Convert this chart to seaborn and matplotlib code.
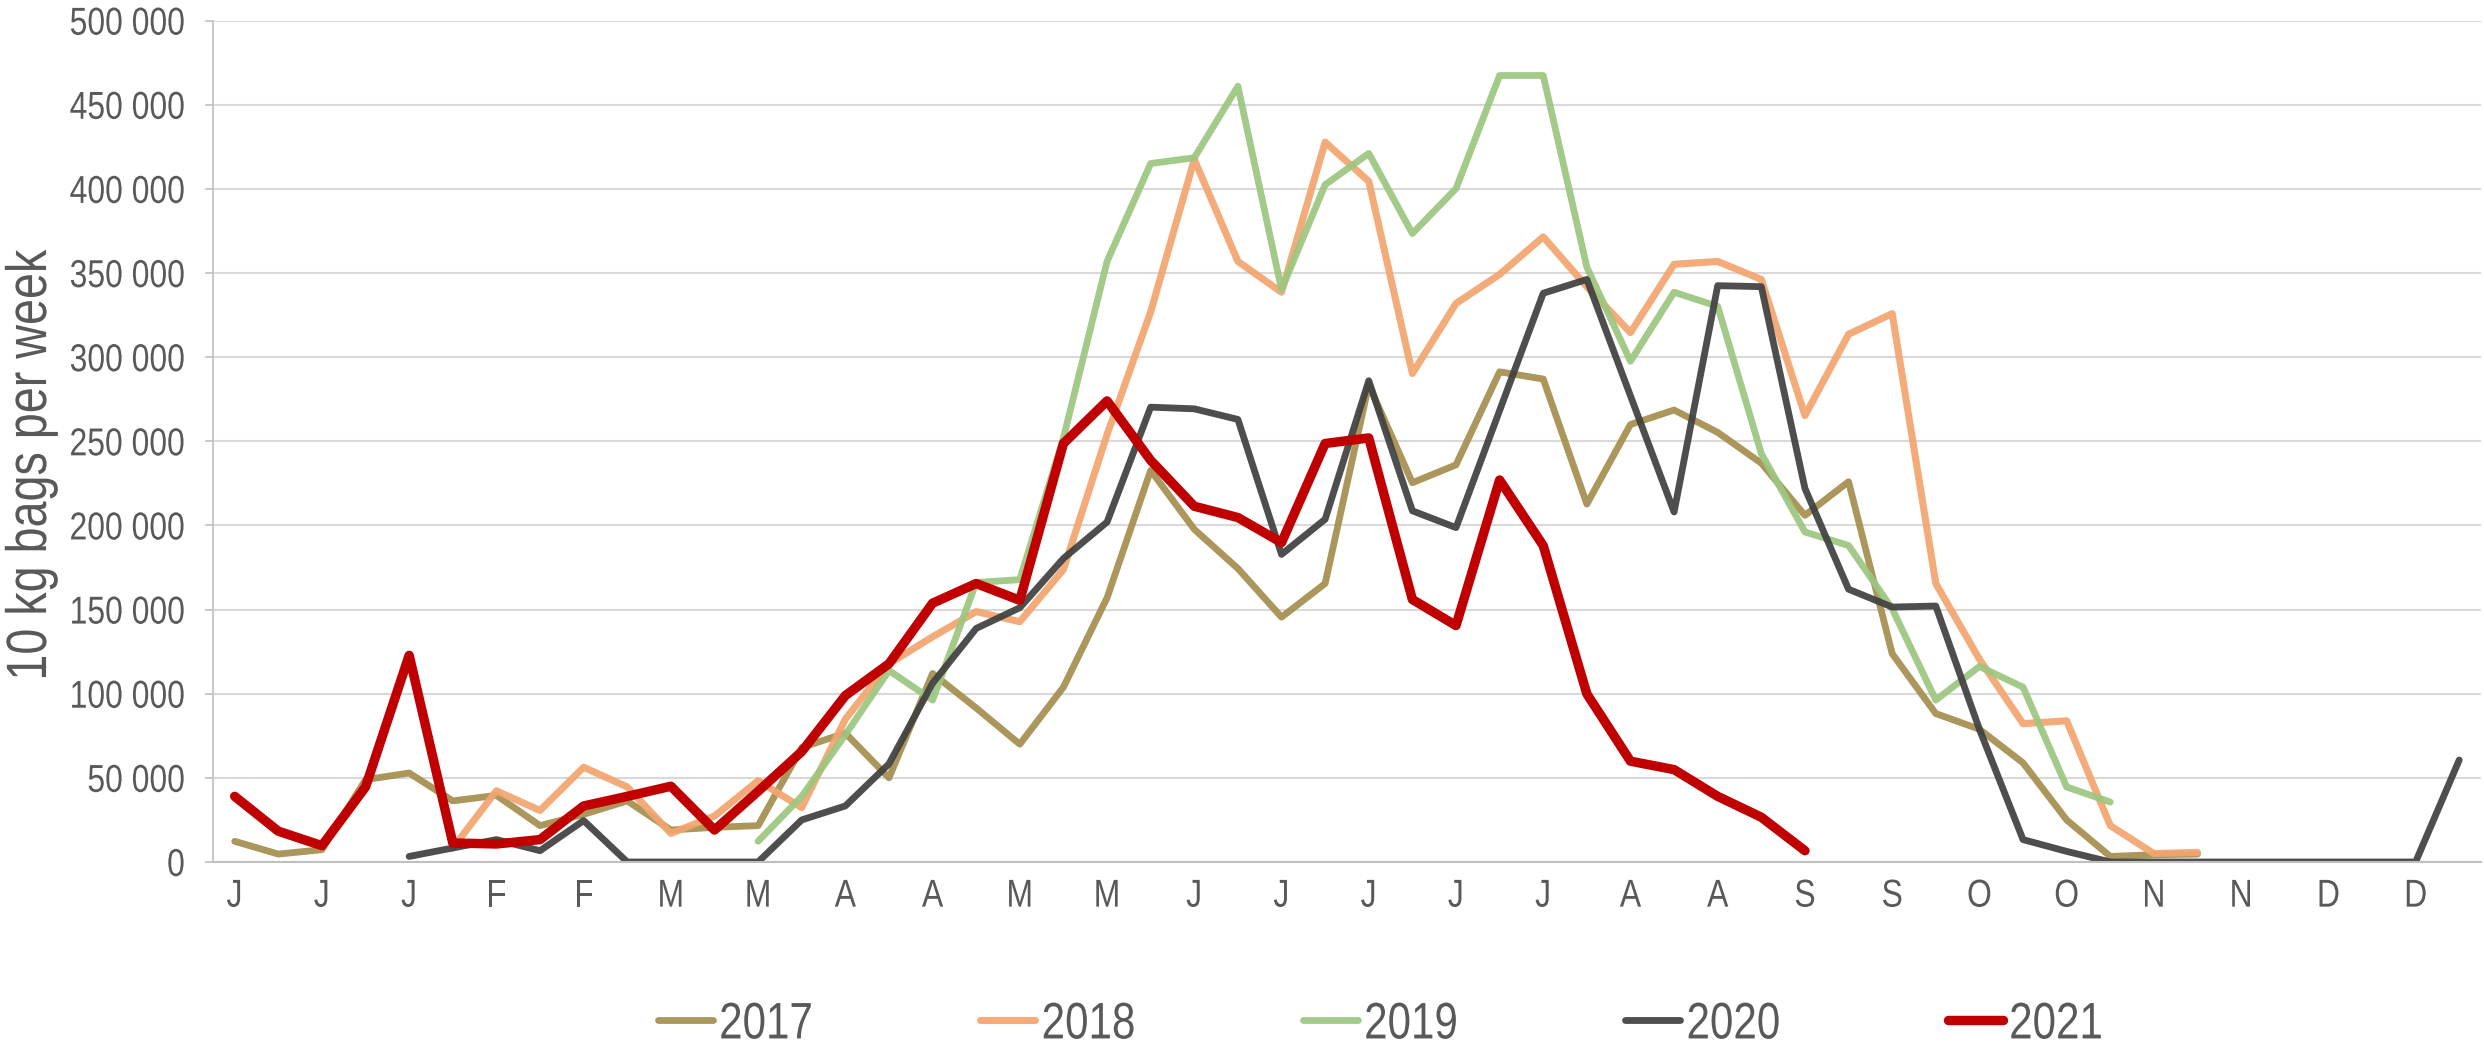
import numpy as np
import pandas as pd
import matplotlib
matplotlib.use("Agg")
import matplotlib.pyplot as plt
from matplotlib import patheffects
from matplotlib.transforms import Affine2D
from matplotlib.ticker import FuncFormatter
import seaborn as sns

# --- data: 10 kg bags per week, week index 0..51 ---
weeks = list(range(52))
month_labels = ["J", "J", "J", "F", "F", "M", "M", "A", "A", "M", "M", "J", "J",
                "J", "J", "J", "A", "A", "S", "S", "O", "O", "N", "N", "D", "D"]

y2017 = [12300, 4700, 7300, 48900, 52900, 36300, 39600, 21600, 28300, 36300,
         19000, 20600, 21600, 68000, 76600, 50000, 112000, 91500, 70000, 103900,
         157000, 232700, 197700, 174400, 145500, 165500, 283600, 225400, 236000, 291300,
         287000, 212700, 260000, 268600, 255300, 237000, 206000, 226000, 123800, 88200,
         78900, 58900, 25000, 3300, 4300, 4700] + [None] * 6
y2018 = [None] * 5 + [8300, 42300, 30600, 56300, 44600,
         17000, 27300, 48300, 32300, 84900, 117800, 133800, 148800, 142800, 173800,
         254000, 326900, 417500, 356900, 338600, 427800, 404500, 290300, 331900, 349200,
         371500, 341900, 314600, 355200, 356900, 346200, 265300, 313600, 325900, 165500,
         120500, 82200, 83900, 21600, 5000, 5700] + [None] * 6
y2019 = [None] * 12 + [12300, 39000, 75600, 113800, 96200, 166100, 167800, 252000,
         356900, 415100, 418500, 461000, 340200, 402500, 421100, 373500, 400200, 467400,
         467400, 353500, 297600, 338600, 330200, 242700, 196100, 188100, 150500, 96200,
         116200, 103900, 44600, 35600] + [None] * 8
y2020 = [None] * 4 + [3300, 8300, 13300, 6700, 24600, 0,
         0, 0, 0, 25000, 33300, 58300, 106200, 138800, 151100, 180400,
         202000, 270300, 269300, 263000, 182800, 203700, 286000, 208700, 198700, 268300,
         338000, 346200, 277000, 208000, 342500, 341900, 222000, 162100, 151500, 152100,
         78900, 13300, 6300, 0, 0, 0, 0, 0, 0, 0,
         0, 60600]
y2021 = [39000, 18300, 9700, 44600, 122800, 11300, 10700, 13300, 33300, 39000,
         45000, 19000, 42000, 65600, 98900, 117800, 153800, 165500, 155500, 248700,
         274000, 238700, 211400, 204700, 189800, 248700, 252000, 156000, 140500, 227000,
         188000, 99900, 59900, 54900, 39000, 26600, 6700] + [None] * 15

years = ["2017", "2018", "2019", "2020", "2021"]
series = [y2017, y2018, y2019, y2020, y2021]
colors = ["#A58F4E", "#F3A56F", "#9CC680", "#404040", "#C00000"]
widths = [4.9, 5.1, 4.9, 4.9, 6.8]

frames = []
for yr, vals in zip(years, series):
    frames.append(pd.DataFrame({"week": weeks, "bags": vals, "year": yr}))
df = pd.concat(frames, ignore_index=True).dropna()


# the original uses a narrow Arial; squeeze Liberation Sans horizontally instead
class Narrow(patheffects.AbstractPathEffect):
    def __init__(self, sx=0.82, anchor="center"):
        super().__init__()
        self.sx = sx
        self.anchor = anchor

    def draw_path(self, renderer, gc, tpath, affine, rgbFace=None):
        ext = tpath.get_extents()
        x0 = {"left": ext.x0, "right": ext.x1}.get(self.anchor, (ext.x0 + ext.x1) / 2)
        squeeze = Affine2D().translate(-x0, 0).scale(self.sx, 1).translate(x0, 0)
        renderer.draw_path(gc, tpath, squeeze + affine, rgbFace)


# --- style ---
sns.set_style("white")
plt.rcParams["font.family"] = ["Liberation Sans", "DejaVu Sans"]
grey_txt = "#595959"
grey_ax = "#bfbfbf"

fig = plt.figure(figsize=(24.84, 10.48), dpi=100)
ax = fig.add_axes([0.0857, 0.1775, 0.9131, 0.8028])

for yr, c, lw in zip(years, colors, widths):
    sns.lineplot(data=df[df["year"] == yr], x="week", y="bags", color=c, linewidth=lw,
                 alpha=0.93 if yr != "2021" else 1.0, label=yr, ax=ax,
                 solid_capstyle="round", solid_joinstyle="round")

ax.set_xlim(-0.5, 51.5)
ax.set_ylim(0, 500000)
ax.set_yticks(range(0, 500001, 50000))
ax.yaxis.set_major_formatter(FuncFormatter(lambda v, p: f"{int(v):,}".replace(",", " ")))
ax.yaxis.grid(True, color="#d9d9d9", lw=1.5)
ax.set_axisbelow(True)

ax.set_xticks(range(0, 52, 2))
ax.set_xticklabels(month_labels)
ax.set_xticks(np.arange(-0.5, 52, 1), minor=True)
ax.tick_params(axis="x", which="major", length=0, pad=12, labelsize=28, labelcolor=grey_txt)
ax.tick_params(axis="x", which="minor", length=7, width=1.2, color=grey_ax, direction="out")
ax.tick_params(axis="y", length=6, width=1.2, color=grey_ax, pad=14, labelsize=28,
               labelcolor=grey_txt, left=True)
for t in ax.get_yticklabels():
    t.set_path_effects([Narrow(anchor="right")])
for t in ax.get_xticklabels():
    t.set_path_effects([Narrow(anchor="center")])

for s in ["top", "right"]:
    ax.spines[s].set_visible(False)
ax.spines["left"].set_color(grey_ax)
ax.spines["left"].set_linewidth(1.2)
ax.spines["bottom"].set_color(grey_ax)
ax.spines["bottom"].set_linewidth(1.5)

ax.set_xlabel("")
ax.set_ylabel("")
fig.text(0.0125, 0.556, "10 kg bags per week", rotation=90, va="center", ha="center",
         fontsize=41, color=grey_txt, path_effects=[Narrow(anchor="center")])

leg = ax.legend(loc="center", bbox_to_anchor=(0.5597, 0.022), bbox_transform=fig.transFigure,
                ncol=5, frameon=False, fontsize=37, handlelength=1.07, handletextpad=0.12,
                columnspacing=2.86, labelcolor=grey_txt)
for t in leg.get_texts():
    t.set_path_effects([Narrow(anchor="left")])

fig.savefig("out.png", dpi=100)
